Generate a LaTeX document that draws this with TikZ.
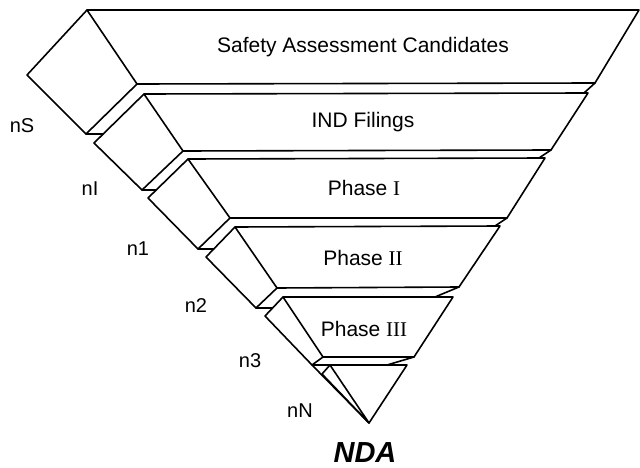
\documentclass[tikz,border=0pt]{standalone}
\usepackage{fontspec}
\usetikzlibrary{calc}
\setmainfont{Liberation Sans}
\newfontfamily\romfont{Liberation Serif}
\begin{document}
\begin{tikzpicture}[x=1pt,y=-1pt,
  edge/.style={draw=black,line width=1.6pt,line join=round,line cap=round},
  title/.style={anchor=base,inner sep=0pt,font=\fontsize{21}{23}\selectfont},
  lab/.style={anchor=base,inner sep=0pt,font=\fontsize{20}{22}\selectfont}]
\useasboundingbox[fill=white] (0,0) rectangle (640,468);
% level 1
\coordinate (TL1) at (87,10);  \coordinate (TR1) at (639,10);
\coordinate (BR1) at (595,83); \coordinate (BL1) at (137,84);
\coordinate (L1) at (27,75);   \coordinate (B1) at (86,134);
% level 2
\coordinate (TL2) at (144,94); \coordinate (TR2) at (588,93);
\coordinate (BR2) at (551,150);\coordinate (BL2) at (183,151);
\coordinate (L2) at (94,143);  \coordinate (B2) at (142,190);
% level 3
\coordinate (TL3) at (188,159);\coordinate (TR3) at (545,158);
\coordinate (BR3) at (507,218);\coordinate (BL3) at (230,218);
\coordinate (L3) at (148,198); \coordinate (B3) at (198,249);
% level 4
\coordinate (TL4) at (235,227);\coordinate (TR4) at (500,226);
\coordinate (BR4) at (459,287);\coordinate (BL4) at (277,288);
\coordinate (L4) at (206,257); \coordinate (B4) at (256,308);
% level 5
\coordinate (TL5) at (283,297);\coordinate (TR5) at (453,297);
\coordinate (BR5) at (414,357);\coordinate (BL5) at (323,357);
\coordinate (L5) at (265,316); \coordinate (B5) at (312,365);
% level 6 (apex)
\coordinate (TL6) at (330,365);\coordinate (TR6) at (407,365);
\coordinate (AP) at (369,423); \coordinate (L6) at (322,374);
% hooks at the right
\coordinate (H1) at (584,93);  \coordinate (H2) at (539,158);
\coordinate (H3) at (495,226); \coordinate (H4) at (435,297);
\coordinate (H5) at (387,365);
% helper points for the short horizontals
\foreach \i in {1,2,3,4} {\coordinate (Bh\i) at ($(B\i)+(30,0)$);}
% front faces
\foreach \i in {1,2,3,4,5} {
  \draw[edge] (TL\i) -- (TR\i) -- (BR\i) -- (BL\i) -- cycle;
  \draw[edge] (TL\i) -- (L\i) -- (B\i) -- (BL\i);
}
\draw[edge] (B5) -- (TR6) -- (AP) -- cycle;
\draw[edge] (TL6) -- (L6) -- (AP) -- (TL6);
% hooks
\foreach \i in {1,2,3,4,5} {\draw[edge] (BR\i) -- (H\i);}
% short horizontals
\draw[edge] (B1) -- (intersection of B1--Bh1 and TL2--L2);
\draw[edge] (B2) -- (intersection of B2--Bh2 and TL3--L3);
\draw[edge] (B3) -- (intersection of B3--Bh3 and TL4--L4);
\draw[edge] (B4) -- (intersection of B4--Bh4 and TL5--L5);
% titles
\node[title] (t1) at (363,53) {Safety Assessment Candidates};
\node[title] (t2) at (363,128) {IND Filings};
\node[title] (t3) at (364,195) {Phase {\romfont I}};
\node[title] (t4) at (363,265) {Phase {\romfont II}};
\node[title] (t5) at (364,336) {Phase {\romfont III}};
\node[anchor=base,inner sep=0pt,font=\fontsize{29}{31}\selectfont\bfseries\itshape] (nda) at (365,462) {NDA};
% side labels
\node[lab] (lS) at (22,133) {nS};
\node[lab] (lI) at (90,196) {nI};
\node[lab] (l1) at (138,255) {n1};
\node[lab] (l2) at (196,312) {n2};
\node[lab] (l3) at (250,367) {n3};
\node[lab] (lN) at (300,417) {nN};
\end{tikzpicture}
\end{document}
